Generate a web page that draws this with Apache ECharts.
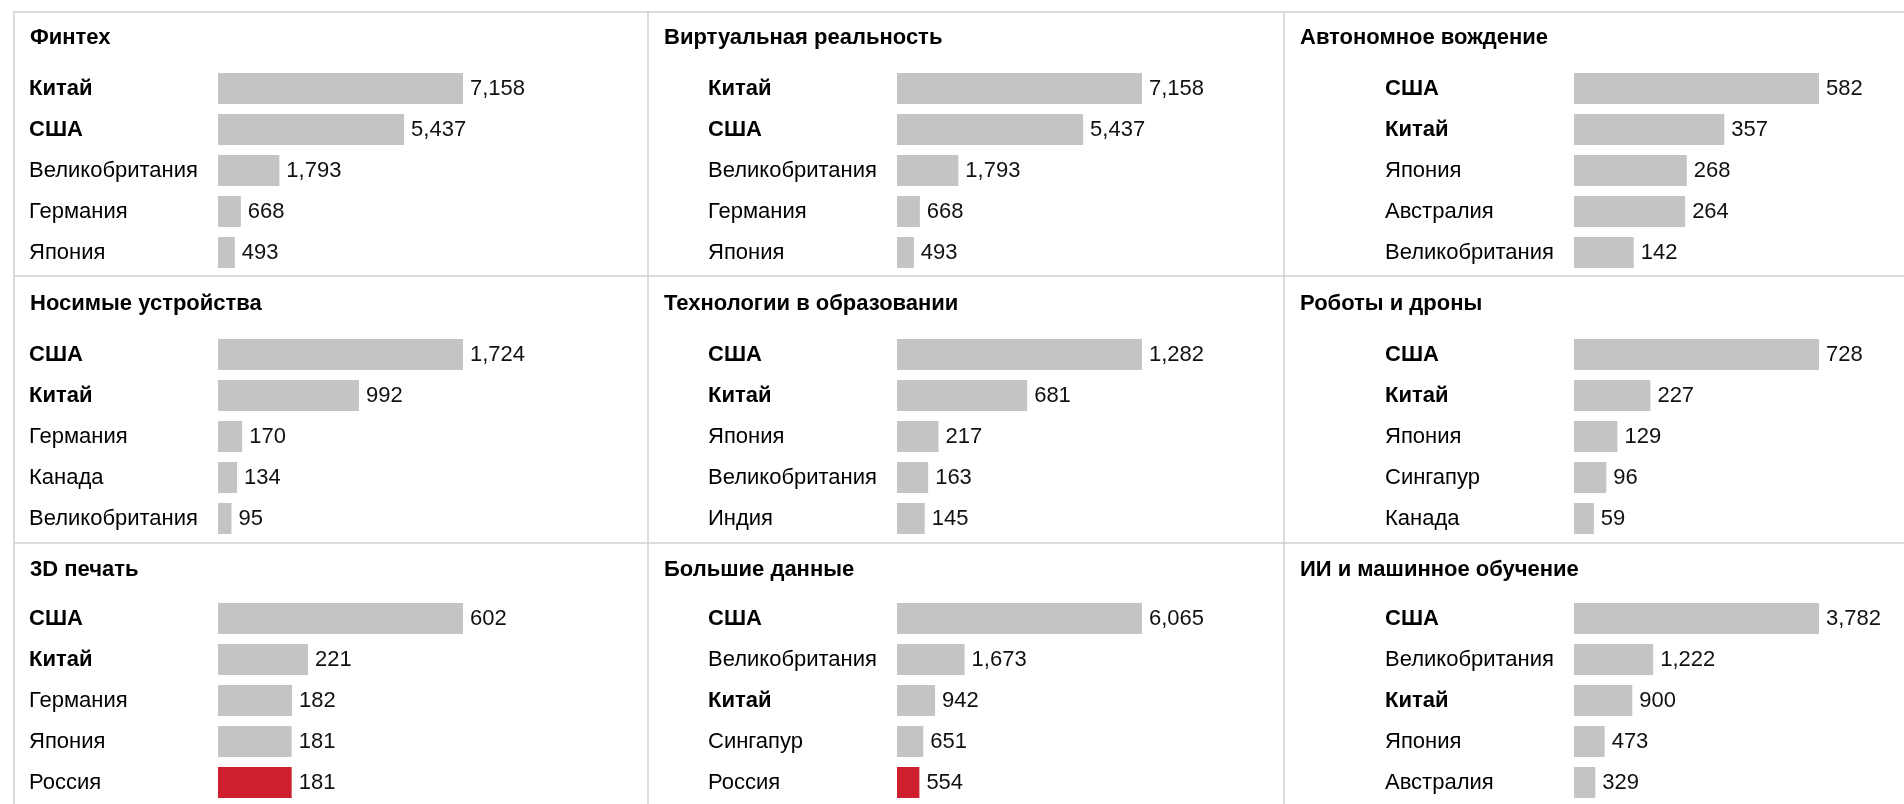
<!DOCTYPE html>
<html>
<head>
<meta charset="utf-8">
<title>Технологии по странам</title>
<script src="https://cdn.jsdelivr.net/npm/echarts@6/dist/echarts.min.js"></script>
<style>
    html, body { margin: 0; padding: 0; background: #fff; }
    #chart { width: 1904px; height: 804px; }
</style>
</head>
<body>
<div id="chart"></div>
<script>
// названия панелей
var titles = ['Финтех', 'Виртуальная реальность', 'Автономное вождение',
    'Носимые устройства', 'Технологии в образовании', 'Роботы и дроны',
    '3D печать', 'Большие данные', 'ИИ и машинное обучение'];

var fintechCountries = ['Китай', 'США', 'Великобритания', 'Германия', 'Япония'];
var fintechValues = [7158, 5437, 1793, 668, 493];

var vrCountries = ['Китай', 'США', 'Великобритания', 'Германия', 'Япония'];
var vrValues = [7158, 5437, 1793, 668, 493];

var autoCountries = ['США', 'Китай', 'Япония', 'Австралия', 'Великобритания'];
var autoValues = [582, 357, 268, 264, 142];

var wearCountries = ['США', 'Китай', 'Германия', 'Канада', 'Великобритания'];
var wearValues = [1724, 992, 170, 134, 95];

var eduCountries = ['США', 'Китай', 'Япония', 'Великобритания', 'Индия'];
var eduValues = [1282, 681, 217, 163, 145];

var robotCountries = ['США', 'Китай', 'Япония', 'Сингапур', 'Канада'];
var robotValues = [728, 227, 129, 96, 59];

var printCountries = ['США', 'Китай', 'Германия', 'Япония', 'Россия'];
var printValues = [602, 221, 182, 181, 181];

var bigDataCountries = ['США', 'Великобритания', 'Китай', 'Сингапур', 'Россия'];
var bigDataValues = [6065, 1673, 942, 651, 554];

var aiCountries = ['США', 'Великобритания', 'Китай', 'Япония', 'Австралия'];
var aiValues = [3782, 1222, 900, 473, 329];

var boldCountries = ['Китай', 'США'];
var highlightCountry = 'Россия';

var panels = [
    [fintechCountries, fintechValues], [vrCountries, vrValues], [autoCountries, autoValues],
    [wearCountries, wearValues], [eduCountries, eduValues], [robotCountries, robotValues],
    [printCountries, printValues], [bigDataCountries, bigDataValues], [aiCountries, aiValues]
];

var fontFamily = '"Liberation Sans", Arial, Helvetica, sans-serif';
var fontSize = 22;
var colLeft = [14, 648, 1284];      // левые границы колонок
var rowTop = [12, 276, 543];        // верхние границы строк
var gridLeft = [218, 897, 1574];
var gridTop = [68, 334, 598];
var titleY = [38, 304, 570];
var lineColor = '#d0d0d0';

var chart = echarts.init(document.getElementById('chart'));

var grids = [], xAxes = [], yAxes = [], series = [], graphics = [];

// рамки
graphics.push({
    type: 'rect', silent: true,
    shape: { x: colLeft[0], y: rowTop[0], width: 2000, height: 1000 },
    style: { fill: 'none', stroke: lineColor, lineWidth: 1.5 }
});
for (var c = 1; c < 3; c++) {
    graphics.push({
        type: 'line', silent: true,
        shape: { x1: colLeft[c], y1: rowTop[0], x2: colLeft[c], y2: 900 },
        style: { stroke: lineColor, lineWidth: 1.5 }
    });
}
for (var r = 1; r < 3; r++) {
    graphics.push({
        type: 'line', silent: true,
        shape: { x1: colLeft[0], y1: rowTop[r], x2: 2000, y2: rowTop[r] },
        style: { stroke: lineColor, lineWidth: 1.5 }
    });
}

for (var i = 0; i < panels.length; i++) {
    var col = i % 3, row = Math.floor(i / 3);
    var names = panels[i][0], vals = panels[i][1];

    graphics.push({
        type: 'text', silent: true,
        x: colLeft[col] + 16, y: titleY[row],
        style: {
            text: titles[i], fill: '#000', fontSize: fontSize, fontWeight: 'bold',
            fontFamily: fontFamily, verticalAlign: 'middle', align: 'left'
        }
    });

    grids.push({ left: gridLeft[col], top: gridTop[row], width: 245, height: 205 });
    xAxes.push({
        gridIndex: i, type: 'value', min: 0, max: Math.max.apply(null, vals), show: false
    });
    yAxes.push({
        gridIndex: i, type: 'category', inverse: true, data: names,
        axisLine: { show: false }, axisTick: { show: false }, splitLine: { show: false },
        axisLabel: {
            align: 'left', margin: 189, fontSize: fontSize, color: '#000', fontFamily: fontFamily,
            formatter: function (v) {
                return boldCountries.indexOf(v) >= 0 ? '{b|' + v + '}' : v;
            },
            rich: { b: { fontWeight: 'bold', fontSize: fontSize, color: '#000', fontFamily: fontFamily } }
        }
    });
    series.push({
        type: 'bar', xAxisIndex: i, yAxisIndex: i, barWidth: 31, silent: true,
        data: vals.map(function (v, k) {
            return {
                value: v,
                itemStyle: { color: names[k] == highlightCountry ? '#cd1f2d' : '#c4c4c4' }
            };
        }),
        label: {
            show: true, position: 'right', distance: 7, fontSize: fontSize, color: '#111',
            fontFamily: fontFamily,
            formatter: function (p) { return p.value.toLocaleString('en-US'); }
        }
    });
}

chart.setOption({
    animation: false,
    grid: grids,
    xAxis: xAxes,
    yAxis: yAxes,
    series: series,
    graphic: graphics
});
</script>
</body>
</html>
